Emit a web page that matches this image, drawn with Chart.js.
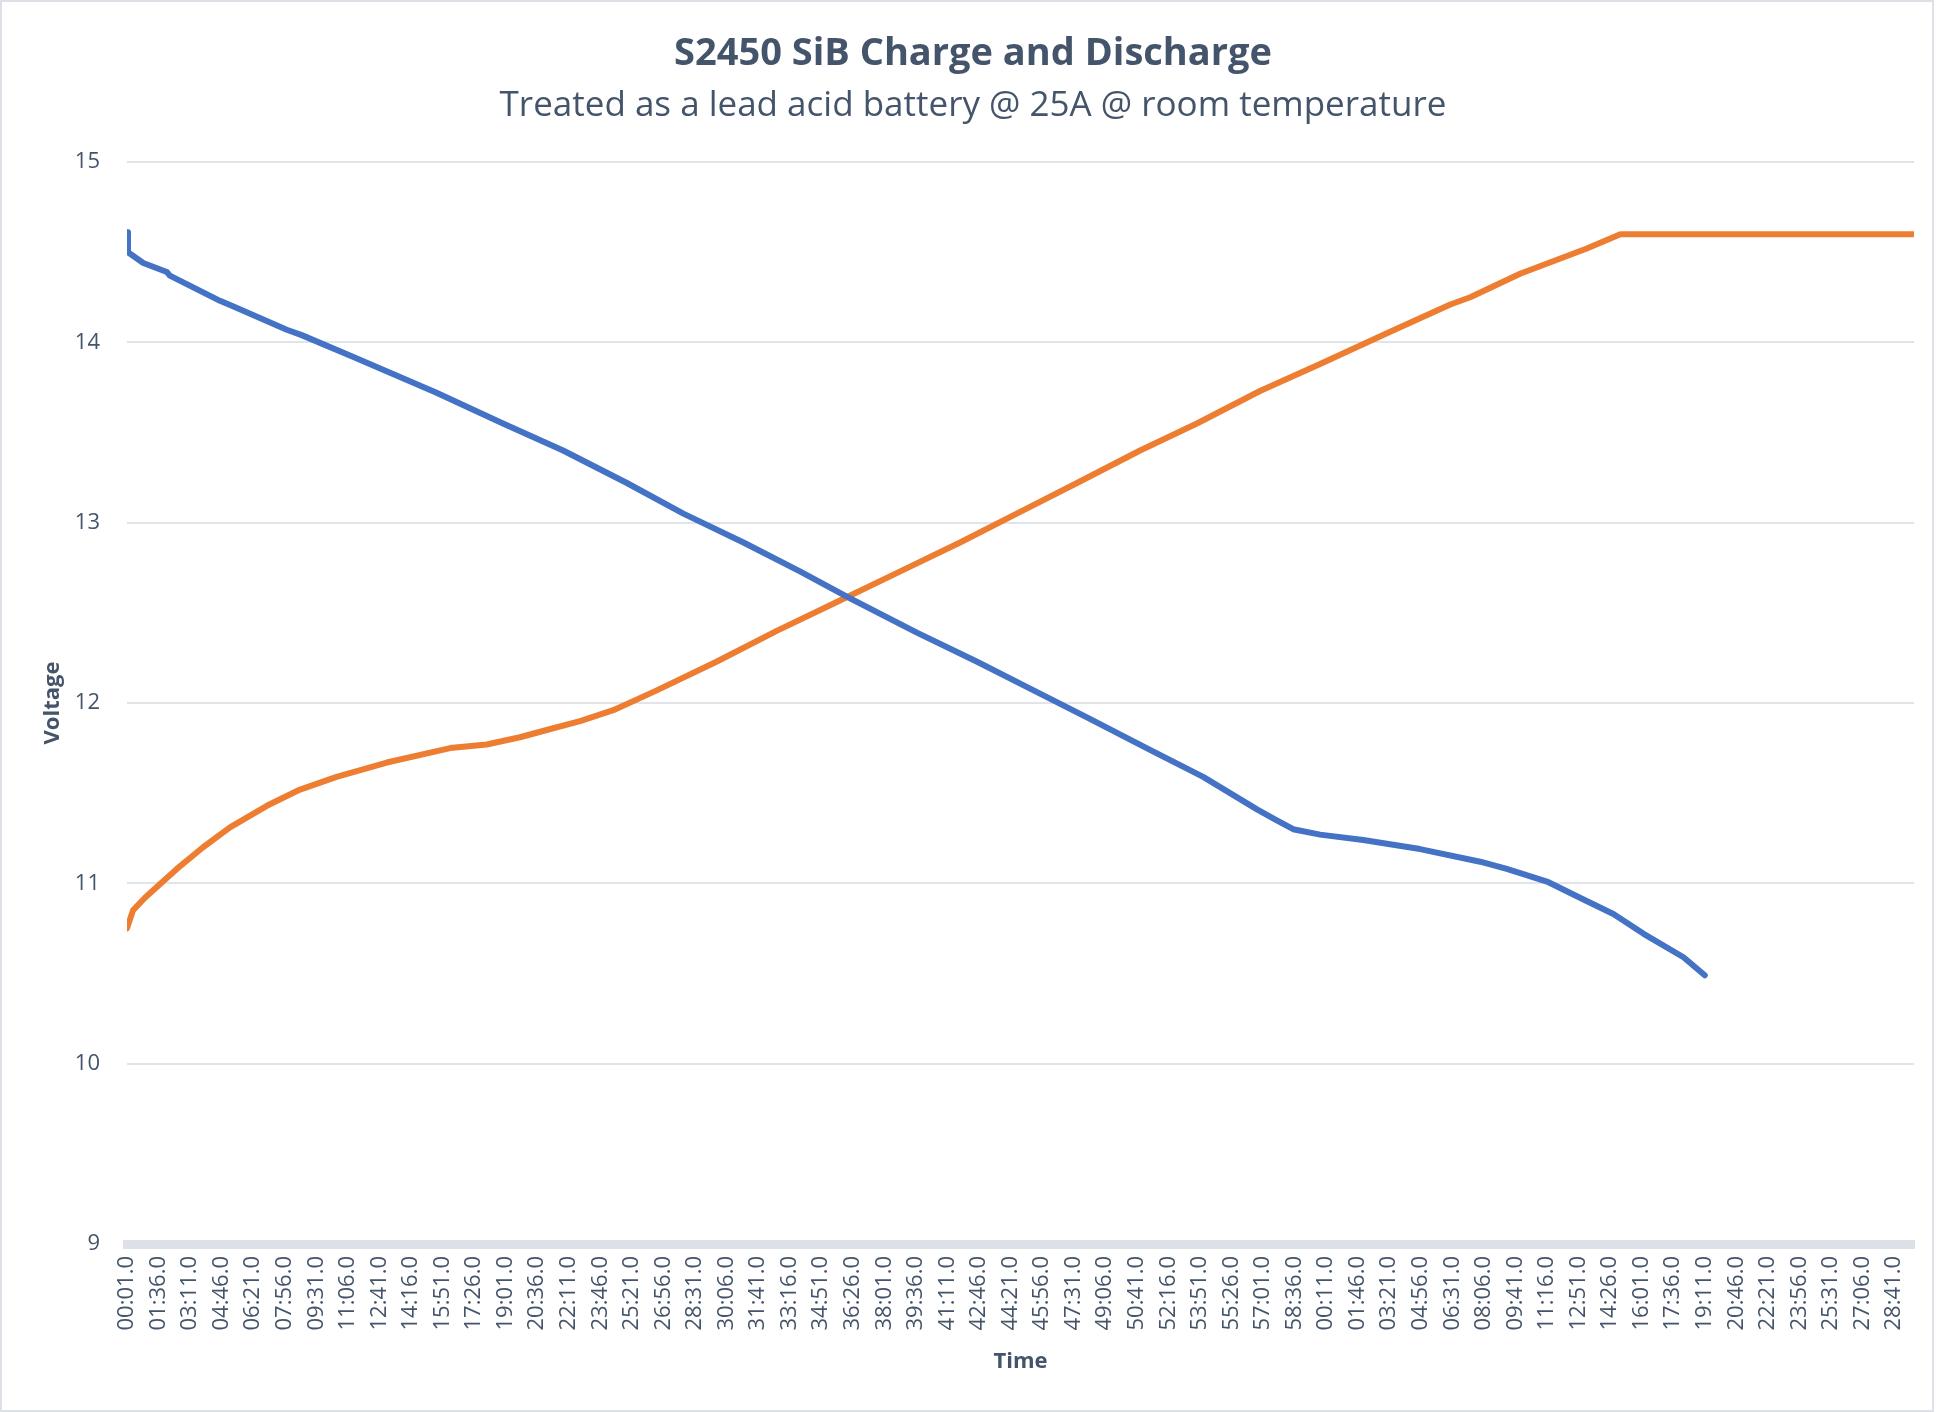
<!DOCTYPE html>
<html>
<head>
<meta charset="utf-8">
<script src="https://cdn.jsdelivr.net/npm/chart.js@4.4.1/dist/chart.umd.min.js"></script>
<style>
  html, body { margin: 0; padding: 0; background: #ffffff; }
  #wrap { position: relative; width: 1946px; height: 1412px; }
  #chart { position: absolute; left: 0; top: 0; }
  #frame { position: absolute; left: 0; top: 0; width: 1934px; height: 1412px;
           border: 2px solid #dde1e7; box-sizing: border-box; pointer-events: none; }
</style>
</head>
<body>
<div id="wrap">
  <canvas id="chart" width="1946" height="1412"></canvas>
  <div id="frame"></div>
</div>
<script>
// time stamps (seconds from start) and voltages
const dischargeTime = [1, 4, 50, 121, 130, 281, 320, 482, 527, 681, 933, 1133, 1314, 1506, 1676, 1857, 2027, 2178, 2379, 2559, 2720, 2891, 3081, 3241, 3403, 3457, 3512, 3593, 3723, 3794, 3894, 4075, 4155, 4276, 4386, 4476, 4567, 4687, 4751];
const dischargeVolt = [14.61, 14.50, 14.44, 14.39, 14.37, 14.23, 14.20, 14.07, 14.04, 13.92, 13.72, 13.55, 13.40, 13.22, 13.05, 12.89, 12.73, 12.58, 12.39, 12.23, 12.08, 11.92, 11.74, 11.59, 11.41, 11.355, 11.30, 11.27, 11.24, 11.22, 11.19, 11.12, 11.08, 11.01, 10.91, 10.83, 10.72, 10.59, 10.49];

const chargeTime = [1, 19, 55, 109, 151, 230, 311, 422, 522, 632, 783, 974, 1084, 1184, 1284, 1365, 1465, 1596, 1777, 1957, 2138, 2329, 2509, 2690, 2861, 3051, 3222, 3412, 3593, 3794, 3985, 4045, 4195, 4396, 4497, 5381];
const chargeVolt = [10.75, 10.85, 10.92, 11.01, 11.08, 11.20, 11.31, 11.43, 11.52, 11.59, 11.67, 11.75, 11.77, 11.81, 11.86, 11.90, 11.96, 12.07, 12.23, 12.40, 12.56, 12.73, 12.89, 13.06, 13.22, 13.40, 13.55, 13.73, 13.88, 14.05, 14.21, 14.25, 14.38, 14.52, 14.60, 14.60];

const tickLabels = ['00:01.0', '01:36.0', '03:11.0', '04:46.0', '06:21.0', '07:56.0', '09:31.0', '11:06.0', '12:41.0', '14:16.0',
  '15:51.0', '17:26.0', '19:01.0', '20:36.0', '22:11.0', '23:46.0', '25:21.0', '26:56.0', '28:31.0', '30:06.0',
  '31:41.0', '33:16.0', '34:51.0', '36:26.0', '38:01.0', '39:36.0', '41:11.0', '42:46.0', '44:21.0', '45:56.0',
  '47:31.0', '49:06.0', '50:41.0', '52:16.0', '53:51.0', '55:26.0', '57:01.0', '58:36.0', '00:11.0', '01:46.0',
  '03:21.0', '04:56.0', '06:31.0', '08:06.0', '09:41.0', '11:16.0', '12:51.0', '14:26.0', '16:01.0', '17:36.0',
  '19:11.0', '20:46.0', '22:21.0', '23:56.0', '25:31.0', '27:06.0', '28:41.0'];

const yTicks = [9, 10, 11, 12, 13, 14, 15];

// label text -> seconds, the clock wraps after 59:59
let hourOffset = 0, prevSec = -1;
const tickSeconds = tickLabels.map(l => {
  const [m, s] = l.split(':');
  let sec = parseInt(m, 10) * 60 + parseFloat(s);
  if (sec + hourOffset < prevSec) hourOffset += 3600;
  prevSec = sec + hourOffset;
  return prevSec;
});

const textColor = '#44546a';
const font = 'Open Sans';

const toPoints = (t, v) => t.map((x, i) => ({ x: x, y: v[i] }));

new Chart(document.getElementById('chart'), {
  type: 'line',
  data: {
    datasets: [
      {
        label: 'Discharge',
        data: toPoints(dischargeTime, dischargeVolt),
        borderColor: '#4472c4',
        borderWidth: 6,
        pointRadius: 0,
        borderCapStyle: 'round',
        borderJoinStyle: 'round',
        tension: 0
      },
      {
        label: 'Charge',
        data: toPoints(chargeTime, chargeVolt),
        borderColor: '#ed7d31',
        borderWidth: 6,
        pointRadius: 0,
        borderCapStyle: 'round',
        borderJoinStyle: 'round',
        tension: 0
      }
    ]
  },
  options: {
    responsive: false,
    animation: false,
    devicePixelRatio: 1,
    layout: { padding: 0 },
    plugins: {
      legend: { display: false },
      tooltip: { enabled: false },
      title: {
        display: true,
        text: 'S2450 SiB Charge and Discharge',
        color: textColor,
        font: { family: font, size: 38, weight: 'bold' },
        padding: { top: 31.5, bottom: 7.5 }
      },
      subtitle: {
        display: true,
        text: 'Treated as a lead acid battery @ 25A @ room temperature',
        color: textColor,
        font: { family: font, size: 35 },
        padding: { top: 0, bottom: 35.4 }
      }
    },
    scales: {
      x: {
        type: 'linear',
        min: tickSeconds[0],
        max: 5381,
        afterBuildTicks: s => { s.ticks = tickSeconds.map(v => ({ value: v })); },
        afterFit: s => { s.height = 168; },
        grid: { display: false, drawTicks: false },
        border: { display: true, color: '#dde1e7', width: 9 },
        ticks: {
          autoSkip: false,
          maxRotation: 90,
          minRotation: 90,
          padding: 12,
          color: textColor,
          font: { family: font, size: 22 },
          callback: (v, i) => tickLabels[i]
        },
        title: {
          display: true,
          text: 'Time',
          color: textColor,
          font: { family: font, size: 22, weight: 'bold' },
          padding: { top: 0, bottom: 37 }
        }
      },
      y: {
        min: yTicks[0],
        max: yTicks[yTicks.length - 1],
        afterBuildTicks: s => { s.ticks = yTicks.map(v => ({ value: v })); },
        afterFit: s => { s.width = 127; },
        grid: { color: '#e1e5ea', lineWidth: 2, drawTicks: false },
        border: { display: false },
        ticks: {
          padding: 27,
          color: textColor,
          font: { family: font, size: 22 }
        },
        title: {
          display: true,
          text: 'Voltage',
          color: textColor,
          font: { family: font, size: 22, weight: 'bold' },
          padding: { top: 40, bottom: 0 }
        }
      },
      // empty right-hand strip so the plot ends before the canvas edge while the titles stay centred
      yRight: {
        position: 'right',
        min: yTicks[0],
        max: yTicks[yTicks.length - 1],
        afterFit: s => { s.width = 32; },
        grid: { display: false, drawTicks: false },
        border: { display: false },
        ticks: { display: false }
      }
    }
  }
});
</script>
</body>
</html>
